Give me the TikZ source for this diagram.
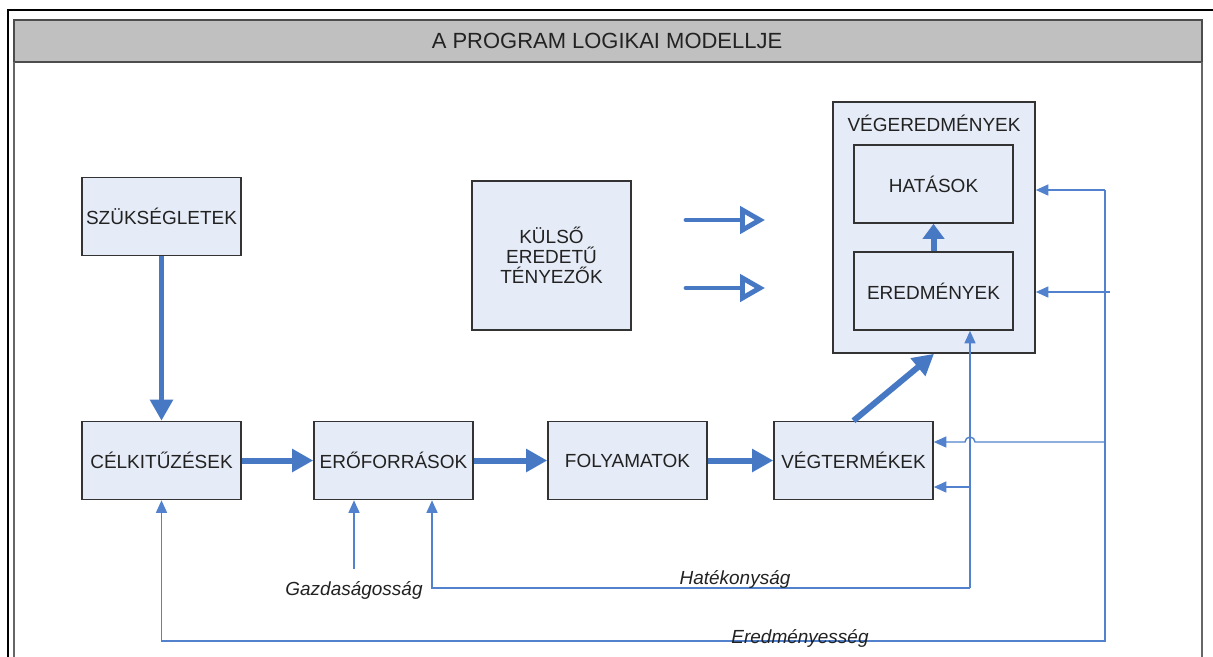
\documentclass[tikz,border=0pt]{standalone}
\usepackage{fontspec}
\setmainfont{Liberation Sans}
\usepackage{tikz}
\usetikzlibrary{arrows.meta, calc}

\definecolor{boxfill}{RGB}{230,236,247}
\definecolor{arrblue}{RGB}{70,120,196}
\definecolor{fbblue}{RGB}{82,130,205}
\definecolor{bandgray}{RGB}{192,192,192}
\definecolor{txt}{RGB}{34,34,34}

\begin{document}
\begin{tikzpicture}[font=\fontsize{10.8}{12.5}\selectfont, text=txt,
  doboz/.style={draw=black!80, line width=0.9pt, fill=boxfill, minimum width=3.18cm,
                minimum height=1.56cm, inner sep=0pt, align=center},
  vastag/.style={draw=arrblue, line width=3.4pt, -{Triangle[length=4.2mm,width=4.4mm]}},
  nyitott/.style={draw=arrblue, line width=2.8pt, line cap=round, line join=round,
                  -{Triangle[open,length=5mm,width=5.4mm]}},
  vekony/.style={draw=fbblue, line width=0.8pt, -{Triangle[length=2.5mm,width=2.2mm]}},
  cimke/.style={font=\fontsize{10.8}{12.5}\selectfont\itshape, inner sep=1pt}]

\useasboundingbox (0,0) rectangle (24.26,-13.12);

% ---- Frame and title ---------------------------------------------------
\draw[line width=1.2pt] (0.16,-13.3) -- (0.16,-0.2) -- (24.4,-0.2);
\draw[black!70, line width=1pt, fill=bandgray] (0.28,-1.24) rectangle (24.04,-0.4);
\draw[black!60, line width=1pt] (0.28,-1.24) -- (0.28,-13.3);
\draw[black!60, line width=1pt] (24.04,-1.24) -- (24.04,-13.3);
\node[font=\fontsize{12.5}{14}\selectfont] (cim) at (12.14,-0.82) {A PROGRAM LOGIKAI MODELLJE};

% ---- Boxes ---------------------------------------------------------------
\node[doboz] (szuks) at (3.23,-4.33) {SZÜKSÉGLETEK};
\node[doboz, minimum height=2.98cm, font=\fontsize{10.8}{11.5}\selectfont]
      (kulso) at (11.03,-5.11) {KÜLSŐ\\EREDETŰ\\TÉNYEZŐK};
\node[doboz, minimum width=4.04cm, minimum height=5.02cm] (veger) at (18.68,-4.55) {};
\node[anchor=base] (vegercim) at (18.68,-2.62) {VÉGEREDMÉNYEK};
\node[doboz] (hatas) at (18.67,-3.68) {HATÁSOK};
\node[doboz] (eredm) at (18.67,-5.82) {EREDMÉNYEK};

\node[doboz] (celk) at (3.23,-9.21) {CÉLKITŰZÉSEK};
\node[doboz] (erof) at (7.87,-9.21) {ERŐFORRÁSOK};
\node[doboz] (foly) at (12.55,-9.21) {FOLYAMATOK};
\node[doboz] (vegt) at (17.07,-9.21) {VÉGTERMÉKEK};

% ---- Main chain ----------------------------------------------------------
\draw[vastag] (szuks.south) -- (celk.north);
\draw[vastag] (celk) -- (erof);
\draw[vastag] (erof) -- (foly);
\draw[vastag] (foly) -- (vegt);
\draw[vastag] (vegt.north) -- (veger.south);
\draw[vastag, -{Triangle[length=3mm,width=4.2mm]}] (eredm.north) -- (hatas.south);

% ---- External factors ----------------------------------------------------
\coordinate (k1) at (13.72,-4.4);
\coordinate (k2) at (13.72,-5.76);
\draw[nyitott] (k1) -- ++(1.58,0);
\draw[nyitott] (k2) -- ++(1.58,0);

% ---- Feedback lines ------------------------------------------------------
\coordinate (jf) at (22.1,-3.8);
\coordinate (jm) at (22.2,-5.84);
\coordinate (jv) at (22.1,-8.84);
\coordinate (ja) at (22.1,-12.82);
\coordinate (hk) at (19.4,-11.76);
\coordinate (va) at ([yshift=-5.3mm]vegt.east);

\draw[vekony] (jf) -- (jf -| veger.east);
\draw[vekony] (jm) -- (jm -| veger.east);
\draw[vekony] (jf) -- (ja) -| (celk.south);
\draw[vekony] (jv) -- ([xshift=1mm]hk |- jv) arc[start angle=0, end angle=180, radius=1mm]
      -- (jv -| vegt.east);
\draw[vekony] (hk) -- (hk |- eredm.south);
\draw[vekony] (hk) -| ([xshift=7.7mm]erof.south);
\draw[vekony] (va -| hk) -- (va);

\node[cimke] (gazd) at (7.08,-11.8) {Gazdaságosság};
\draw[vekony] ([yshift=2mm]gazd.north) -- (gazd.north |- erof.south);
\node[cimke, anchor=base] (hatek) at (14.7,-11.68) {Hatékonyság};
\node[cimke, anchor=base] (eredmeny) at (16.0,-12.87) {Eredményesség};

\end{tikzpicture}
\end{document}
